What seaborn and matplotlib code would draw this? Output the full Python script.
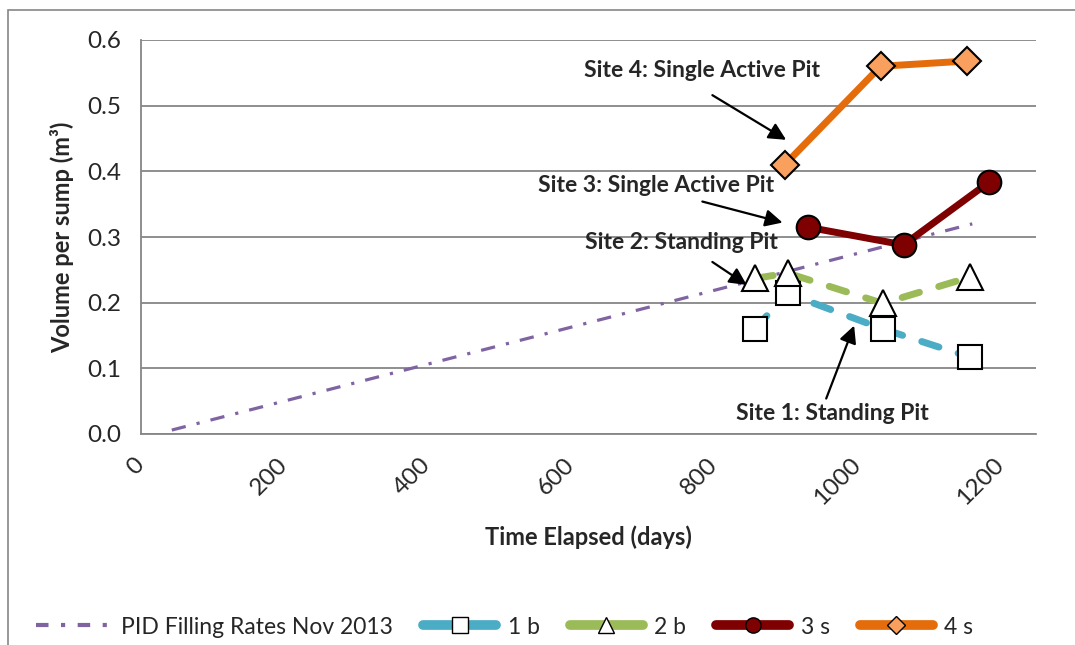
import matplotlib
matplotlib.use("Agg")
import matplotlib.pyplot as plt
import seaborn as sns
import pandas as pd
from matplotlib.lines import Line2D
from matplotlib.patches import Rectangle

# ---- data ----
pid_days = [43, 1161]
pid_vol = [0.006, 0.320]

s1_days = [857, 903, 1036, 1158]
s1_vol = [0.160, 0.214, 0.160, 0.117]

s2_days = [858, 903, 1036, 1158]
s2_vol = [0.237, 0.245, 0.199, 0.239]

s3_days = [931, 1065, 1185]
s3_vol = [0.315, 0.288, 0.384]

s4_days = [899, 1033, 1154]
s4_vol = [0.410, 0.560, 0.568]

series_labels = ["PID Filling Rates Nov 2013", "1 b", "2 b", "3 s", "4 s"]
x_ticks = [0, 200, 400, 600, 800, 1000, 1200]
y_ticks = [0.0, 0.1, 0.2, 0.3, 0.4, 0.5, 0.6]

annotations = [
    ("Site 4: Single Active Pit", (783, 0.554), (798, 0.516), (901, 0.448)),
    ("Site 3: Single Active Pit", (720, 0.379), (784, 0.354), (896, 0.322)),
    ("Site 2: Standing Pit", (755, 0.292), (798, 0.262), (846, 0.227)),
    ("Site 1: Standing Pit", (966, 0.031), (957, 0.054), (996, 0.165)),
]

# ---- style ----
sns.set_style("white")
plt.rcParams["font.family"] = ["Lato", "DejaVu Sans"]

W, H = 1075, 645
fig = plt.figure(figsize=(W / 100, H / 100), dpi=100)
ax = fig.add_axes([141 / W, (H - 434) / H, (1036 - 141) / W, (434 - 40) / H])

purple = "#8064A2"
blue = "#4BACC6"
green = "#9BBB59"
dred = "#7F0000"
orange = "#E46C0A"
orange_fill = "#F9A05E"
grid_c = "#868686"

# PID line
sns.lineplot(x=pid_days, y=pid_vol, ax=ax, color=purple, lw=2.3, sort=False,
             estimator=None, label=series_labels[0], legend=False)
ax.lines[-1].set_dashes([4.5, 3.5, 1, 3.5])

# Site 1
sns.lineplot(x=s1_days, y=s1_vol, ax=ax, color=blue, lw=5, sort=False,
             estimator=None, legend=False, marker="s", markersize=17,
             markerfacecolor="white", markeredgecolor="black", markeredgewidth=1.5)
l1 = ax.lines[-1]
l1.set_dashes([2.6, 2.9])
l1.set_dash_capstyle("round")

# Site 2
sns.lineplot(x=s2_days, y=s2_vol, ax=ax, color=green, lw=5, sort=False,
             estimator=None, legend=False, marker="^", markersize=19,
             markerfacecolor="white", markeredgecolor="black", markeredgewidth=1.5)
l2 = ax.lines[-1]
l2.set_dashes([2.6, 2.9])
l2.set_dash_capstyle("round")

# Site 3
sns.lineplot(x=s3_days, y=s3_vol, ax=ax, color=dred, lw=5, sort=False,
             estimator=None, legend=False, marker="o", markersize=17,
             markerfacecolor=dred, markeredgecolor="black", markeredgewidth=1.5)

# Site 4
sns.lineplot(x=s4_days, y=s4_vol, ax=ax, color=orange, lw=5, sort=False,
             estimator=None, legend=False, marker="D", markersize=14,
             markerfacecolor=orange_fill, markeredgecolor="black", markeredgewidth=1.5)

# axes
ax.set_xlim(0, 1250)
ax.set_ylim(0, 0.6)
ax.set_xticks(x_ticks)
ax.set_yticks(y_ticks)
ax.set_yticklabels([f"{v:.1f}" for v in y_ticks], fontsize=17.5)
ax.set_xticklabels([str(v) for v in x_ticks], fontsize=17.5, rotation=45,
                   ha="right", va="center", rotation_mode="anchor")
ax.tick_params(axis="both", direction="out", length=8, width=1.2, color=grid_c, pad=6)
ax.tick_params(axis="x", pad=12)
ax.grid(axis="y", color=grid_c, lw=1.3)
ax.grid(axis="x", visible=False)
for side in ["top", "right"]:
    ax.spines[side].set_visible(False)
for side in ["left", "bottom"]:
    ax.spines[side].set_color(grid_c)
    ax.spines[side].set_linewidth(1.3)
ax.set_axisbelow(True)

ax.set_xlabel("Time Elapsed (days)", fontsize=17, fontweight="bold", labelpad=12)
ax.set_ylabel("Volume per sump (m³)", fontsize=17, fontweight="bold", labelpad=10)

# annotations
for txt, tpos, tail, head in annotations:
    ax.text(tpos[0], tpos[1], txt, fontsize=16.5, fontweight="bold", ha="center",
            va="center", zorder=6)
    ax.annotate("", xy=head, xytext=tail,
                arrowprops=dict(arrowstyle="-|>", color="black", lw=1.6,
                                mutation_scale=26, shrinkA=0, shrinkB=0), zorder=6)

# legend
handles = [
    Line2D([], [], color=purple, lw=3, dashes=[3, 3, 1, 3]),
    Line2D([], [], color=blue, lw=7, marker="s", markersize=11,
           markerfacecolor="white", markeredgecolor="black", solid_capstyle="round"),
    Line2D([], [], color=green, lw=7, marker="^", markersize=11,
           markerfacecolor="white", markeredgecolor="black", solid_capstyle="round"),
    Line2D([], [], color=dred, lw=7, marker="o", markersize=11,
           markerfacecolor=dred, markeredgecolor="black", solid_capstyle="round"),
    Line2D([], [], color=orange, lw=7, marker="D", markersize=9,
           markerfacecolor=orange_fill, markeredgecolor="black", solid_capstyle="round"),
]
fig.legend(handles, series_labels, loc="center", bbox_to_anchor=(505 / W, 1 - 627 / H),
           ncol=5, frameon=False, fontsize=16.5, handlelength=3.2, handletextpad=0.5,
           columnspacing=1.3)

# outer chart border (cropped at right/bottom)
fig.patches.append(Rectangle((8 / W, -0.2), 1.5, 1.2 - 10 / H, transform=fig.transFigure,
                             fill=False, edgecolor=grid_c, lw=1.2))

fig.savefig("out.png", dpi=100)
